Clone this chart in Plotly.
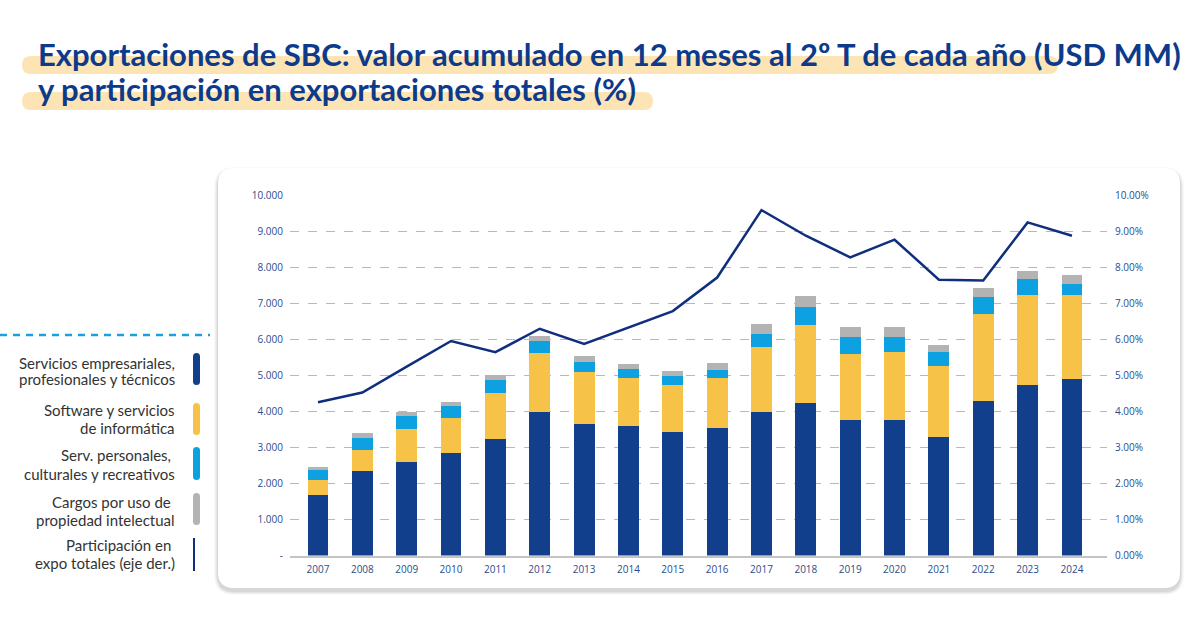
import plotly.graph_objects as go

years = [str(y) for y in range(2007, 2025)]
empresariales = [1680, 2340, 2590, 2840, 3220, 3980, 3650, 3600, 3430, 3530, 3980, 4240, 3750, 3750, 3300, 4290, 4730, 4890]
software = [410, 580, 920, 980, 1280, 1640, 1450, 1320, 1290, 1380, 1790, 2160, 1840, 1900, 1960, 2420, 2490, 2350]
personales = [280, 350, 360, 330, 370, 340, 280, 260, 260, 240, 370, 480, 480, 420, 390, 450, 440, 300]
cargos = [90, 140, 110, 120, 150, 120, 145, 140, 140, 190, 280, 320, 280, 280, 180, 250, 240, 250]
participacion = [4.25, 4.52, 5.24, 5.95, 5.64, 6.29, 5.87, 6.33, 6.78, 7.71, 9.58, 8.87, 8.27, 8.76, 7.65, 7.63, 9.24, 8.87]

left_ticks = [0, 1000, 2000, 3000, 4000, 5000, 6000, 7000, 8000, 9000, 10000]
left_labels = ["-", "1.000", "2.000", "3.000", "4.000", "5.000", "6.000", "7.000", "8.000", "9.000", "10.000"]
right_ticks = [0, 1, 2, 3, 4, 5, 6, 7, 8, 9, 10]
right_labels = ["0.00%", "1.00%", "2.00%", "3.00%", "4.00%", "5.00%", "6.00%", "7.00%", "8.00%", "9.00%", "10.00%"]

NAVY = "#123f8c"
YELLOW = "#f6c247"
BLUE = "#0ea1e2"
GRAY = "#b3b3b3"
LINE = "#0f2f7e"
TICK = "#2b4c8c"
TITLE = "#0d3a8a"
HIGHLIGHT = "#fde4b4"

W, H = 1200, 630
def px(x):
    return x / W
def py(y):
    return 1 - y / H

fig = go.Figure()
for name, vals, col in [("Servicios empresariales, profesionales y técnicos", empresariales, NAVY),
                        ("Software y servicios de informática", software, YELLOW),
                        ("Serv. personales, culturales y recreativos", personales, BLUE),
                        ("Cargos por uso de propiedad intelectual", cargos, GRAY)]:
    fig.add_trace(go.Bar(x=years, y=vals, name=name, marker=dict(color=col, line=dict(width=0)),
                         width=0.47, xaxis="x", yaxis="y"))
fig.add_trace(go.Scatter(x=years, y=participacion, mode="lines", name="Participación",
                         line=dict(color=LINE, width=2.5), xaxis="x", yaxis="y2"))

x0, x1 = 290, 1107
step = 44.35
first = 318
ylo, yhi = 555.5, 195

shapes = []
def rrect(xa, ya, xb, yb, r):
    return (f"M {px(xa+r)} {py(ya)} L {px(xb-r)} {py(ya)} Q {px(xb)} {py(ya)} {px(xb)} {py(ya+r)} "
            f"L {px(xb)} {py(yb-r)} Q {px(xb)} {py(yb)} {px(xb-r)} {py(yb)} "
            f"L {px(xa+r)} {py(yb)} Q {px(xa)} {py(yb)} {px(xa)} {py(yb-r)} "
            f"L {px(xa)} {py(ya+r)} Q {px(xa)} {py(ya)} {px(xa+r)} {py(ya)} Z")

# card shadow
for i, a in enumerate([0.025, 0.035, 0.045, 0.06]):
    g = 4 - i
    shapes.append(dict(type="path", xref="paper", yref="paper", layer="below",
                       path=rrect(218 - g, 168 - g + 3, 1180 + g, 588 + g + 3, 16 + g),
                       fillcolor=f"rgba(0,0,0,{a})", line=dict(width=0)))
shapes.append(dict(type="path", xref="paper", yref="paper", layer="below",
                   path=rrect(218, 168, 1180, 588, 16), fillcolor="white", line=dict(width=0)))

# title highlights
shapes.append(dict(type="path", xref="paper", yref="paper", layer="below",
                   path=rrect(22, 56, 1058, 74, 9), fillcolor=HIGHLIGHT, line=dict(width=0)))
shapes.append(dict(type="path", xref="paper", yref="paper", layer="below",
                   path=rrect(22, 92, 653, 110, 9), fillcolor=HIGHLIGHT, line=dict(width=0)))

# legend dashed line
shapes.append(dict(type="line", xref="paper", yref="paper", x0=px(0), x1=px(210), y0=py(335), y1=py(335),
                   line=dict(color="#1a9fe0", width=2.5, dash="7px,6px")))

annotations = []
annotations.append(dict(xref="paper", yref="paper", x=px(36), y=py(54), xanchor="left", yanchor="middle",
                        text="<b>Exportaciones de SBC: valor acumulado en 12 meses al 2º T de cada año (USD MM)</b>",
                        showarrow=False, font=dict(family="Lato", size=31, color=TITLE)))
annotations.append(dict(xref="paper", yref="paper", x=px(36), y=py(89.5), xanchor="left", yanchor="middle",
                        text="<b>y participación en exportaciones totales (%)</b>",
                        showarrow=False, font=dict(family="Lato", size=31, color=TITLE)))

legend_items = [
    (("Servicios empresariales,", "profesionales y técnicos"), (363, 379), NAVY, (353, 385), "pill"),
    (("Software y servicios", "de informática"), (410, 428), YELLOW, (403, 435), "pill"),
    (("Serv. personales,\u00a0", "culturales y recreativos"), (455, 474), BLUE, (447, 480), "pill"),
    (("Cargos por uso de\u00a0", "propiedad intelectual"), (502, 520), GRAY, (493, 525), "pill"),
    (("Participación en\u00a0", "expo totales (eje der.)"), (545, 563), LINE, (538, 571), "line"),
]
for lines, ys, col, (ya, yb), kind in legend_items:
    for t, yy in zip(lines, ys):
        annotations.append(dict(xref="paper", yref="paper", x=px(177), y=py(yy), xanchor="right",
                                yanchor="middle", text=t, showarrow=False,
                                font=dict(family="Lato", size=15, color="#333333")))
    if kind == "pill":
        shapes.append(dict(type="path", xref="paper", yref="paper",
                           path=rrect(193, ya, 200, yb, 3.5), fillcolor=col, line=dict(width=0)))
    else:
        shapes.append(dict(type="line", xref="paper", yref="paper", x0=px(194), x1=px(194),
                           y0=py(ya), y1=py(yb), line=dict(color=col, width=2)))

xr = [(x0 - first) / step, (x1 - first) / step]

fig.update_layout(
    width=W, height=H, margin=dict(l=0, r=0, t=0, b=0, pad=0, autoexpand=False),
    paper_bgcolor="white", plot_bgcolor="rgba(0,0,0,0)",
    barmode="stack", bargap=0.5, showlegend=False,
    shapes=shapes, annotations=annotations,
    xaxis=dict(domain=[px(x0), px(x1)], range=xr, type="category", automargin=False,
               showgrid=False, showline=True, linecolor="#c4c4c4", linewidth=1.5,
               ticks="", tickfont=dict(family="Open Sans", size=10, color=TICK),
               ticklabelstandoff=4, zeroline=False, fixedrange=True),
    yaxis=dict(domain=[py(ylo), py(yhi)], range=[0, 10000], tickvals=left_ticks, ticktext=left_labels,
               automargin=False,
               showgrid=True, gridcolor="#b8b8b8", gridwidth=1, griddash="dash",
               zeroline=False, showline=False, ticks="",
               tickfont=dict(family="Open Sans", size=10, color=TICK), ticklabelstandoff=6),
    yaxis2=dict(domain=[py(ylo), py(yhi)], range=[0, 10], overlaying="y", side="right",
                automargin=False,
                tickvals=right_ticks, ticktext=right_labels, showgrid=False, zeroline=False,
                showline=False, ticks="", tickfont=dict(family="Open Sans", size=10, color=TICK),
                ticklabelstandoff=7),
)

fig.write_html("out.html", config={"displayModeBar": False},
               post_script="document.body.style.margin='0px';document.body.style.overflow='hidden';")
